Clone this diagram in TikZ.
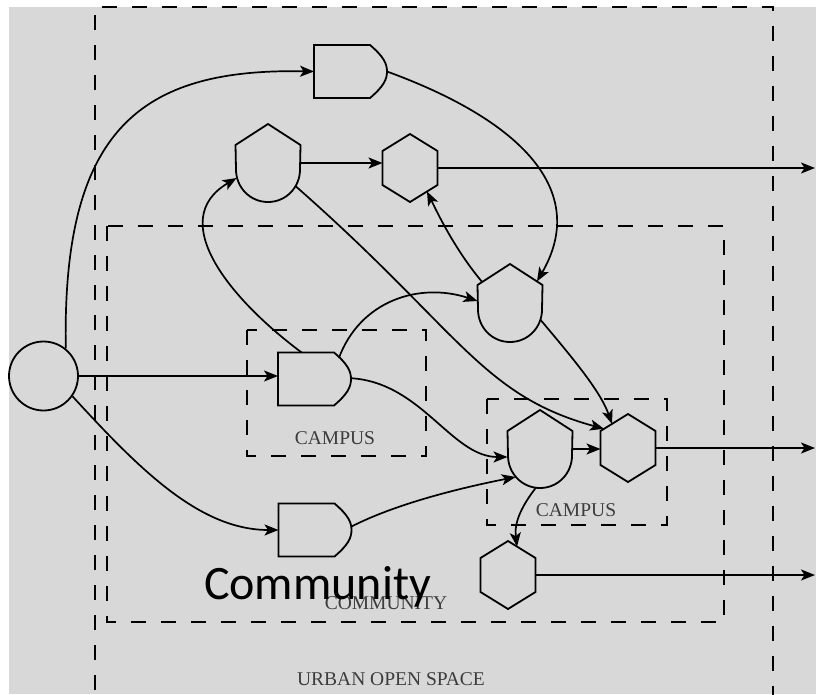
\documentclass[tikz,border=0pt]{standalone}
\usepackage{fontspec}
\setmainfont{Liberation Serif}
\newfontfamily\carlito{Carlito}
\usetikzlibrary{arrows.meta,calc}
\definecolor{bg}{RGB}{216,216,216}
\definecolor{lblc}{RGB}{60,60,60}
\begin{document}
\begin{tikzpicture}[x=1pt,y=-1pt,
  conn/.style={line width=1.7pt,draw=black},
  arr/.style={conn,-{Stealth[length=14pt,width=11pt,inset=3.5pt]}},
  zone/.style={draw=black,line width=1.9pt,dash pattern=on 15pt off 15pt},
  shapeline/.style={draw=black,line width=1.8pt,fill=bg,line join=miter},
  box/.style={inner sep=0pt,outer sep=0pt,draw=none,rectangle},
  zlabel/.style={anchor=base,inner sep=0pt,text=lblc,font=\fontsize{19.5}{20}\selectfont}]
\useasboundingbox (0,0) rectangle (816,694);
\clip (0,0) rectangle (816,694);
\fill[bg] (9,7) rectangle (816,694);

% zones
\draw[zone] (95,720) -- (95,7) -- (773,7) -- (773,720);
\draw[zone] (107,226) rectangle (724,622);
\draw[zone] (247,330) rectangle (426,456);
\draw[zone] (487,399) rectangle (667,525);

% zone labels
\node[zlabel] (lcampusA) at (335,444) {CAMPUS};
\node[zlabel] (lcampusB) at (576,516) {CAMPUS};
\node[zlabel] (lcomm) at (386,609) {COMMUNITY};
\node[zlabel] (lurban) at (391,685) {URBAN OPEN SPACE};
\node[anchor=base,inner sep=0pt,font=\carlito\fontsize{48}{50}\selectfont] (lbig) at (317.5,599) {Community};

% node frames
\node[shapeline,circle,minimum size=69pt,inner sep=0pt] (c) at (43.5,376) {};
\node[box,minimum width=73pt,minimum height=53pt] (a1) at (350.5,71.5) {};
\node[box,minimum width=73pt,minimum height=53pt] (a2) at (314.5,379) {};
\node[box,minimum width=73pt,minimum height=53pt] (a3) at (315,530) {};
\node[box,minimum width=65pt,minimum height=78pt] (s1) at (268,163) {};
\node[box,minimum width=65pt,minimum height=78pt] (s2) at (510,303) {};
\node[box,minimum width=65pt,minimum height=78pt] (s3) at (540,449) {};
\node[box,minimum width=55pt,minimum height=68pt] (h1) at (410,168) {};
\node[box,minimum width=55pt,minimum height=68pt] (h2) at (628,448) {};
\node[box,minimum width=55pt,minimum height=68pt] (h3) at (508,575) {};
\coordinate (o1) at (815,168);
\coordinate (o2) at (815,449);
\coordinate (o3) at (815,575);

% connectors
\draw[arr] (c.51) .. controls (62,130) and (140,68) .. (a1.west);
\draw[arr] (c.east) -- (c.east -| a2.west);
\draw[arr] (c.-35) .. controls (140,470) and (200,530) .. (a3.west);
\draw[arr] (a1.east) .. controls (520,120) and (590,190) .. ($(s2)+(27,-21.6)$);
\draw[arr] (s1) -- (s1 -| h1.west);
\draw[arr] (h1) -- (h1 -| o1);
\draw[arr] ($(a2)+(-9.5,-24)$) .. controls (230,300) and (165,220) .. ($(s1)+(-31.4,15)$);
\draw[arr] ($(a2)+(24,-20)$) .. controls (360,300) and (420,282) .. ($(s2)+(-32.5,-2)$);
\draw[arr] ($(s1)+(24,20)$) .. controls (460,330) and (480,395) .. ($(h2)+(-24,-19.2)$);
\draw[arr] ($(a2)+(30,-1)$) .. controls (420,378) and (450,457) .. ($(s3)+(-32.5,8)$);
\draw[arr] ($(a3)+(30,0)$) .. controls (390,505) and (460,488) .. ($(s3)+(-24.4,28)$);
\draw[arr] (s3) -- (s3 -| h2.west);
\draw[arr] (h2) -- (h2 -| o2);
\draw[arr] (h3) -- (h3 -| o3);
\draw[arr] ($(s3)+(-2,36)$) .. controls (522,505) and (514,522) .. ($(h3)+(9,-28.4)$);
\draw[arr] ($(s2)+(29,15)$) .. controls (570,355) and (600,390) .. ($(h2)+(-16,-24.1)$);
\draw[arr] ($(s2)+(-27,-20)$) .. controls (455,250) and (437,212) .. ($(h1)+(17,23.5)$);

% shapes on top
\foreach \n in {a1,a2,a3}{
  \draw[shapeline,shift={(\n)}] (-36.5,-26.5) -- (19.5,-26.5)
    .. controls (33,-15) and (36.5,-8) .. (36.5,0)
    .. controls (36.5,8) and (33,15) .. (19.5,26.5) -- (-36.5,26.5) -- cycle;
}
\foreach \n in {s1,s2,s3}{
  \draw[shapeline,shift={(\n)}] (0,-39) -- (32.5,-18) -- (32,6.5)
    .. controls (32,24.4) and (17.95,39) .. (0,39)
    .. controls (-17.95,39) and (-32,24.4) .. (-32,6.5) -- (-32.5,-18) -- cycle;
}
\foreach \n in {h1,h2,h3}{
  \draw[shapeline,shift={(\n)}] (0,-34) -- (27.5,-17) -- (27.5,17) -- (0,34)
    -- (-27.5,17) -- (-27.5,-17) -- cycle;
}
\end{tikzpicture}
\end{document}
